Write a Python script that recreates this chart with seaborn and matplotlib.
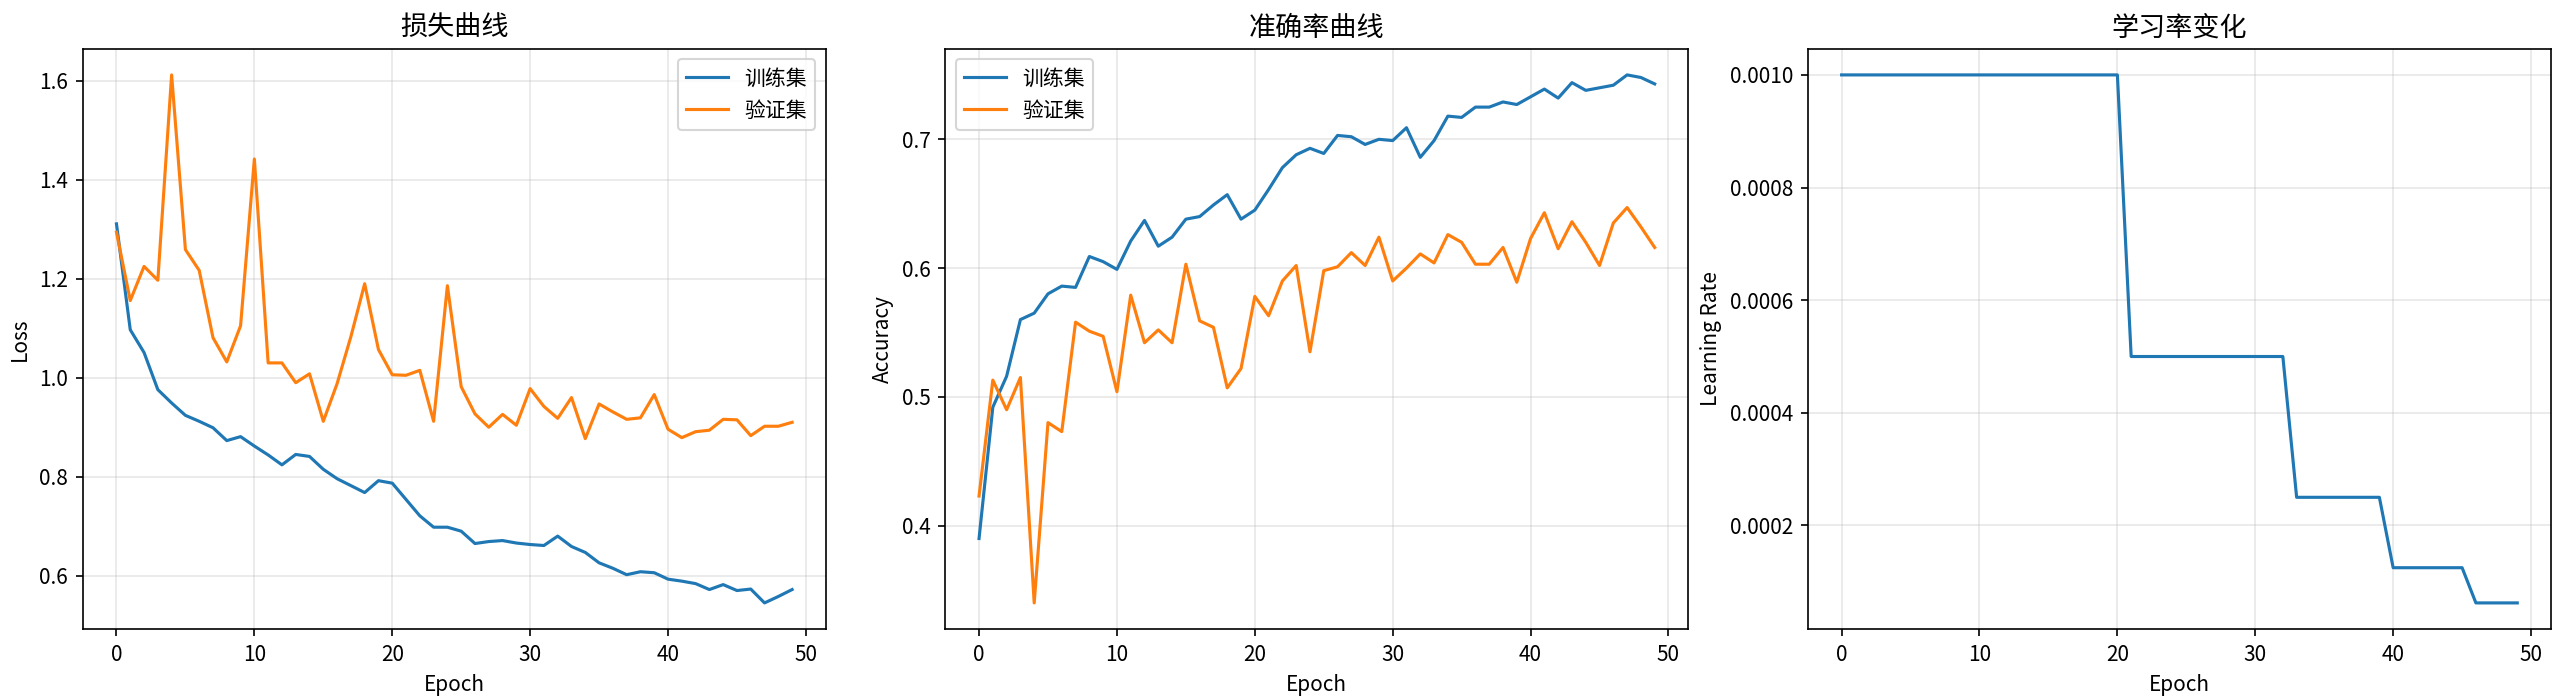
import matplotlib

matplotlib.use("Agg")
import matplotlib.pyplot as plt
import pandas as pd
import seaborn as sns

plt.rcParams["font.family"] = ["Noto Sans CJK SC", "DejaVu Sans"]
plt.rcParams["axes.unicode_minus"] = False

# Training history
epochs = list(range(50))

train_loss = [1.311, 1.097, 1.051, 0.976, 0.949, 0.924, 0.912, 0.899, 0.873, 0.881,
              0.862, 0.844, 0.824, 0.845, 0.841, 0.815, 0.796, 0.782, 0.768, 0.792,
              0.787, 0.754, 0.721, 0.698, 0.698, 0.690, 0.665, 0.669, 0.671, 0.666,
              0.663, 0.661, 0.680, 0.659, 0.647, 0.626, 0.615, 0.602, 0.608, 0.606,
              0.593, 0.589, 0.584, 0.572, 0.582, 0.570, 0.573, 0.545, 0.558, 0.572]

val_loss = [1.294, 1.156, 1.225, 1.197, 1.612, 1.259, 1.217, 1.081, 1.032, 1.105,
            1.442, 1.030, 1.030, 0.990, 1.008, 0.912, 0.988, 1.083, 1.190, 1.057,
            1.006, 1.005, 1.015, 0.912, 1.186, 0.982, 0.927, 0.900, 0.926, 0.904,
            0.978, 0.942, 0.918, 0.960, 0.877, 0.947, 0.931, 0.916, 0.919, 0.966,
            0.896, 0.879, 0.891, 0.894, 0.916, 0.915, 0.883, 0.902, 0.902, 0.910]

train_acc = [0.390, 0.492, 0.516, 0.560, 0.565, 0.580, 0.586, 0.585, 0.609, 0.605,
             0.599, 0.621, 0.637, 0.617, 0.624, 0.638, 0.640, 0.649, 0.657, 0.638,
             0.645, 0.661, 0.678, 0.688, 0.693, 0.689, 0.703, 0.702, 0.696, 0.700,
             0.699, 0.709, 0.686, 0.699, 0.718, 0.717, 0.725, 0.725, 0.729, 0.727,
             0.733, 0.739, 0.732, 0.744, 0.738, 0.740, 0.742, 0.750, 0.748, 0.743]

val_acc = [0.423, 0.513, 0.490, 0.515, 0.340, 0.480, 0.473, 0.558, 0.551, 0.547,
           0.504, 0.579, 0.542, 0.552, 0.542, 0.603, 0.559, 0.554, 0.507, 0.522,
           0.578, 0.563, 0.590, 0.602, 0.535, 0.598, 0.601, 0.612, 0.602, 0.624,
           0.590, 0.600, 0.611, 0.604, 0.626, 0.620, 0.603, 0.603, 0.616, 0.589,
           0.623, 0.643, 0.615, 0.636, 0.620, 0.602, 0.635, 0.647, 0.632, 0.616]

learning_rate = [0.001, 0.001, 0.001, 0.001, 0.001, 0.001, 0.001, 0.001, 0.001, 0.001,
                 0.001, 0.001, 0.001, 0.001, 0.001, 0.001, 0.001, 0.001, 0.001, 0.001,
                 0.001, 0.0005, 0.0005, 0.0005, 0.0005, 0.0005, 0.0005, 0.0005, 0.0005, 0.0005,
                 0.0005, 0.0005, 0.0005, 0.00025, 0.00025, 0.00025, 0.00025, 0.00025, 0.00025, 0.00025,
                 0.000125, 0.000125, 0.000125, 0.000125, 0.000125, 0.000125,
                 0.0000625, 0.0000625, 0.0000625, 0.0000625]

df = pd.DataFrame({
    "epoch": epochs,
    "train_loss": train_loss,
    "val_loss": val_loss,
    "train_acc": train_acc,
    "val_acc": val_acc,
    "lr": learning_rate,
})

blue = "#1f77b4"
orange = "#ff7f0e"

fig, axs = plt.subplots(1, 3, figsize=(2560 / 150, 699 / 150), dpi=150)
fig.subplots_adjust(left=0.0323, right=0.9965, top=0.9306, bottom=0.0997, wspace=0.1606)

# Loss
ax = axs[0]
sns.lineplot(data=df, x="epoch", y="train_loss", ax=ax, color=blue, label="训练集", linewidth=1.5)
sns.lineplot(data=df, x="epoch", y="val_loss", ax=ax, color=orange, label="验证集", linewidth=1.5)
ax.set_title("损失曲线", fontsize=13)
ax.set(xlabel="Epoch", ylabel="Loss")
ax.legend(loc="upper right")
ax.grid(True, alpha=0.3)

# Accuracy
ax = axs[1]
sns.lineplot(data=df, x="epoch", y="train_acc", ax=ax, color=blue, label="训练集", linewidth=1.5)
sns.lineplot(data=df, x="epoch", y="val_acc", ax=ax, color=orange, label="验证集", linewidth=1.5)
ax.set_title("准确率曲线", fontsize=13)
ax.set(xlabel="Epoch", ylabel="Accuracy")
ax.legend(loc="upper left")
ax.grid(True, alpha=0.3)

# Learning rate
ax = axs[2]
sns.lineplot(data=df, x="epoch", y="lr", ax=ax, color=blue, linewidth=1.5)
ax.set_title("学习率变化", fontsize=13)
ax.set(xlabel="Epoch", ylabel="Learning Rate")
ax.grid(True, alpha=0.3)

for ax in axs:
    ax.set_xticks([0, 10, 20, 30, 40, 50])

fig.savefig("out.png", dpi=150)
